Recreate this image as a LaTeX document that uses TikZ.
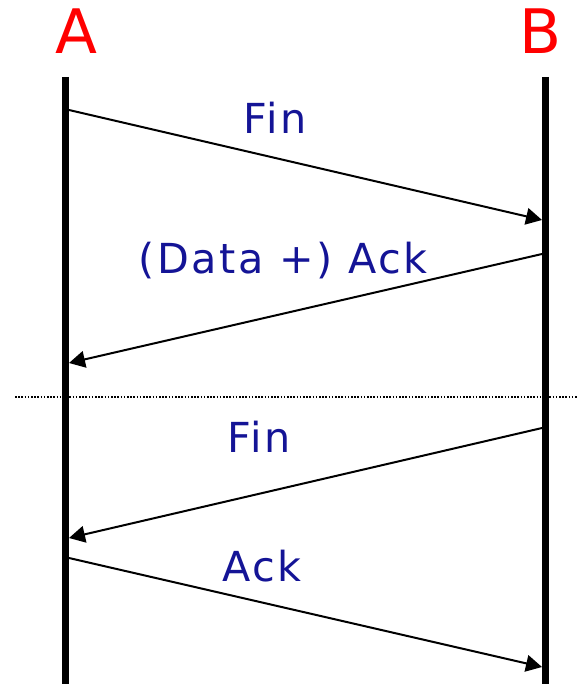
\documentclass[tikz,border=0pt]{standalone}
\usepackage{fontspec}
\setmainfont{DejaVu Sans}
\newfontfamily\lblfont[LetterSpace=6]{DejaVu Sans}
\usetikzlibrary{arrows.meta}
\definecolor{lblblue}{RGB}{20,20,150}
\begin{document}
\begin{tikzpicture}[x=0.75pt,y=-0.75pt,
  life/.style={line width=5.25pt},
  msg/.style={line width=1.5pt,-{Triangle[length=12pt,width=12.5pt]}},
  lbl/.style={text=lblblue,font=\lblfont\fontsize{31}{31}\selectfont,inner sep=0pt},
  ttl/.style={text=red,font=\fontsize{46}{46}\selectfont,inner sep=0pt}]
\useasboundingbox (0,0) rectangle (577,684);
\node[ttl] (tA) at (76,31) {A};
\node[ttl] (tB) at (541,31) {B};
\coordinate (Atop) at (65.5,77);
\coordinate (Abot) at (65.5,684);
\coordinate (Btop) at (545,77);
\coordinate (Bbot) at (545,684);
\draw[life] (Atop) -- (Abot);
\draw[life] (Btop) -- (Bbot);
\coordinate (a1) at (69,110); \coordinate (b1) at (542,220);
\coordinate (b2) at (542,254); \coordinate (a2) at (69,363);
\coordinate (b3) at (542,428); \coordinate (a3) at (69,538);
\coordinate (a4) at (69,558); \coordinate (b4) at (542,667);
\draw[msg] (a1) -- (b1);
\draw[msg] (b2) -- (a2);
\draw[msg] (b3) -- (a3);
\draw[msg] (a4) -- (b4);
\coordinate (dl) at (15,397); \coordinate (dr) at (577,397);
\draw[line width=1.2pt,dash pattern=on 1.2pt off 1.2pt] (dl) -- (dr);
\node[lbl] (l1) at (275,118) {Fin};
\node[lbl] (l2) at (283,261) {(Data +) Ack};
\node[lbl] (l3) at (259,437) {Fin};
\node[lbl] (l4) at (262,566) {Ack};
\end{tikzpicture}
\end{document}
